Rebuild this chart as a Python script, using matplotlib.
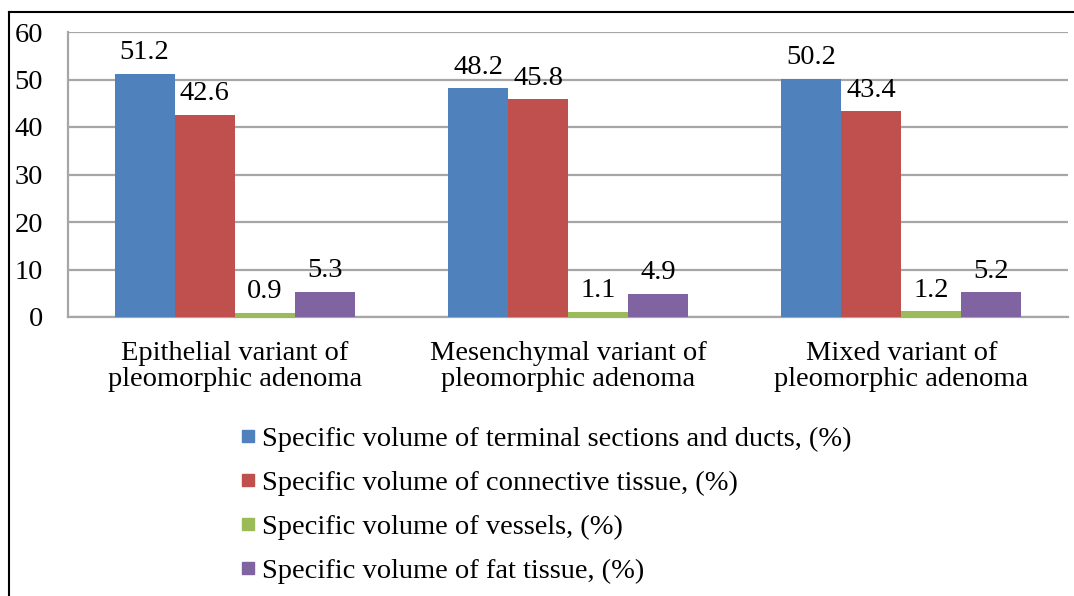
import numpy as np
import matplotlib.pyplot as plt
from matplotlib.lines import Line2D

plt.rcParams['font.family'] = ['Liberation Serif', 'DejaVu Serif']

# data
categories = ["Epithelial variant of\npleomorphic adenoma",
              "Mesenchymal variant of\npleomorphic adenoma",
              "Mixed variant of\npleomorphic adenoma"]
series_names = ["Specific volume of terminal sections and ducts, (%)",
                "Specific volume of connective tissue, (%)",
                "Specific volume of vessels, (%)",
                "Specific volume of fat tissue, (%)"]
ducts = [51.2, 48.2, 50.2]
connective = [42.6, 45.8, 43.4]
vessels = [0.9, 1.1, 1.2]
fat = [5.3, 4.9, 5.2]
yticks = [0, 10, 20, 30, 40, 50, 60]

colors = ['#4F81BD', '#C0504D', '#9BBB59', '#8064A2']
series = [ducts, connective, vessels, fat]
fs = 20.5

fig = plt.figure(figsize=(10.74, 5.96), dpi=100)
ax = fig.add_axes([68/1074, 1 - 317/596, 1000/1074, 285/596])

x = np.arange(len(categories))
w = 0.18
for i, vals in enumerate(series):
    pos = x + (i - 1.5) * w
    bars = ax.bar(pos, vals, width=w, color=colors[i], label=series_names[i], zorder=3)
    for b, v in zip(bars, vals):
        ax.annotate(f"{v}", (b.get_x() + b.get_width() / 2, v),
                    xytext=(0, 6), textcoords='offset points',
                    ha='center', va='bottom', fontsize=fs)

ax.set_xlim(-0.5, 2.5)
ax.set_ylim(0, 60)
ax.set_yticks(yticks)
ax.set_xticks(x)
ax.set_xticklabels(categories, fontsize=fs, linespacing=1.08)
ax.tick_params(axis='y', length=0, labelsize=fs, pad=18)
ax.tick_params(axis='x', length=0, pad=17)
ax.grid(axis='y', color='#a6a6a6', linewidth=1.6, zorder=0)
for s in ['top', 'right']:
    ax.spines[s].set_visible(False)
for s in ['left', 'bottom']:
    ax.spines[s].set_color('#a6a6a6')
    ax.spines[s].set_linewidth(1.6)

handles = [Line2D([], [], marker='s', linestyle='none', markersize=8,
                  markerfacecolor=c, markeredgecolor=c) for c in colors]
fig.legend(handles, series_names, loc='upper left',
           bbox_to_anchor=(242/1074, 1 - 426/596), frameon=False,
           fontsize=fs, handlelength=0.45, handletextpad=0.25,
           labelspacing=0.64, borderpad=0, borderaxespad=0)

# outer frame (left and top edges visible)
fig.add_artist(Line2D([9/1074, 9/1074], [0, 1 - 12/596], color='black', linewidth=1.5,
                      transform=fig.transFigure))
fig.add_artist(Line2D([9/1074, 1], [1 - 12/596, 1 - 12/596], color='black', linewidth=1.5,
                      transform=fig.transFigure))

fig.savefig("out.png", dpi=100)
